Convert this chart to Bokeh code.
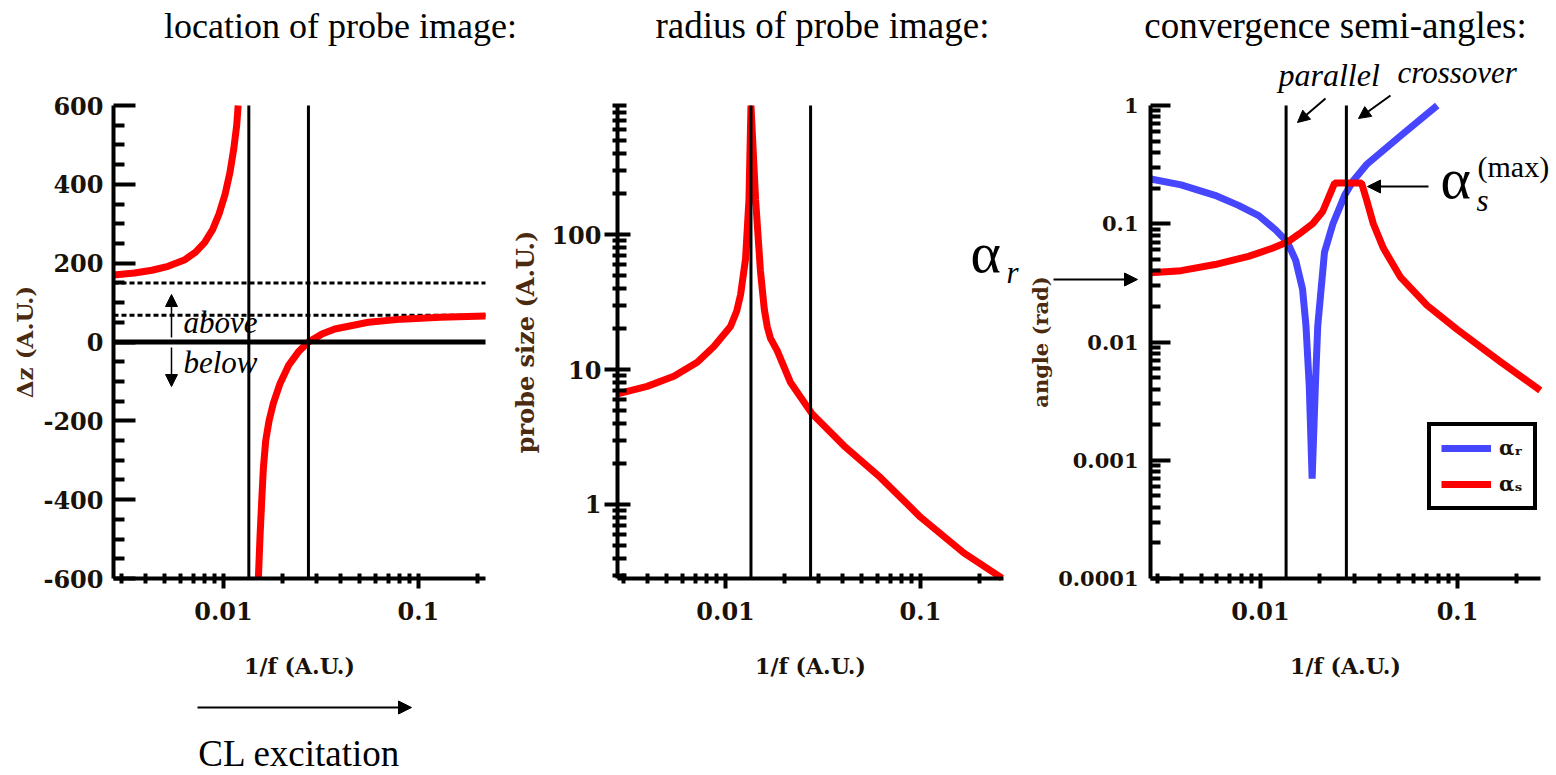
import math
from bokeh.plotting import figure
from bokeh.models import (Range1d, LogScale, LinearScale, LogAxis, LinearAxis,
                          FixedTicker, PrintfTickFormatter, Label, Arrow, NormalHead,
                          Legend, LegendItem)
from bokeh.embed import file_html
from bokeh.resources import INLINE

# ---------------- data ----------------
titles = ["location of probe image:", "radius of probe image:", "convergence semi-angles:"]
x_axis_label = "1/f (A.U.)"
y_axis_labels = ["Δz (A.U.)", "probe size (A.U.)", "angle (rad)"]

parallel_x = 0.0135
crossover_x = 0.0273

x_major_ticks = [0.01, 0.1]
x_minor_ticks = [0.003, 0.004, 0.005, 0.006, 0.007, 0.008, 0.009,
                 0.02, 0.03, 0.04, 0.05, 0.06, 0.07, 0.08, 0.09, 0.2]

# panel 1: image location
dz_major_ticks = [-600, -400, -200, 0, 200, 400, 600]
dz_minor_ticks = [-550, -500, -450, -350, -300, -250, -150, -100, -50,
                  50, 100, 150, 250, 300, 350, 450, 500, 550]
dz_upper_x = [0.00273, 0.0035, 0.0043, 0.0052, 0.0063, 0.0072, 0.0080, 0.0088,
              0.0095, 0.0102, 0.0108, 0.0113, 0.0117, 0.0119]
dz_upper_y = [170, 175, 182, 192, 208, 228, 252, 285, 325, 375, 430, 490, 550, 600]
dz_lower_x = [0.01511, 0.01542, 0.01573, 0.01603, 0.01648, 0.01714, 0.01804,
              0.01953, 0.02155, 0.02425, 0.0273, 0.0320, 0.0373, 0.0554, 0.082,
              0.130, 0.221]
dz_lower_y = [-600, -490, -400, -320, -250, -200, -155, -105, -60, -25, 0,
              20, 33, 50, 58, 63, 66]
dz_asymptotes = [150, 68]

# panel 2: probe size
size_major_ticks = [1, 10, 100]
size_minor_ticks = [0.3, 0.4, 0.5, 0.6, 0.7, 0.8, 0.9, 2, 3, 4, 5, 6, 7, 8, 9,
                    20, 30, 40, 50, 60, 70, 80, 90, 200, 300, 400, 500, 600, 700, 800, 900]
size_x = [0.00279, 0.00396, 0.00543, 0.00716, 0.00871, 0.0106, 0.0114, 0.01194,
          0.01266, 0.01318, 0.0135, 0.01426, 0.0151, 0.0158, 0.01636, 0.0170,
          0.0184, 0.0215, 0.0278, 0.0405, 0.0624, 0.100, 0.1667, 0.262]
size_y = [6.6, 7.5, 8.9, 11.3, 14.8, 20.8, 27.0, 35.8, 65.8, 181, 900, 181, 53.6,
          28.0, 20.8, 17.0, 13.8, 8.05, 4.69, 2.72, 1.58, 0.806, 0.438, 0.285]

# panel 3: convergence semi-angles
angle_major_ticks = [0.0001, 0.001, 0.01, 0.1, 1]
angle_minor_ticks = [0.0002, 0.0003, 0.0004, 0.0005, 0.0006, 0.0007, 0.0008, 0.0009,
                     0.002, 0.003, 0.004, 0.005, 0.006, 0.007, 0.008, 0.009,
                     0.02, 0.03, 0.04, 0.05, 0.06, 0.07, 0.08, 0.09,
                     0.2, 0.3, 0.4, 0.5, 0.6, 0.7, 0.8, 0.9]
alpha_r_x = [0.00278, 0.00396, 0.00588, 0.00774, 0.0098, 0.01194, 0.01371, 0.0151,
             0.01636, 0.01703, 0.0177, 0.0183, 0.0190, 0.01954, 0.02114, 0.02333,
             0.02675, 0.0295, 0.0345, 0.0512, 0.0789]
alpha_r_y = [0.239, 0.213, 0.174, 0.143, 0.117, 0.0888, 0.070, 0.049, 0.028, 0.0137,
             0.0042, 0.0007, 0.0042, 0.0137, 0.0574, 0.10, 0.174, 0.23, 0.316, 0.551, 1.0]
alpha_s_x = [0.00278, 0.00396, 0.00588, 0.0087, 0.0115, 0.01371, 0.01573, 0.0184,
             0.0207, 0.0224, 0.0238, 0.0326, 0.0345, 0.0374, 0.0421, 0.0512, 0.0701,
             0.100, 0.1667, 0.263]
alpha_s_y = [0.0386, 0.0401, 0.0452, 0.053, 0.062, 0.070, 0.082, 0.10, 0.127, 0.174,
             0.221, 0.221, 0.161, 0.10, 0.062, 0.0356, 0.0204, 0.0127, 0.00673, 0.0039]
legend_labels = ["αᵣ", "αₛ"]

# ---------------- layout / style ----------------
RED = "#ff0000"
BLUE = "#4646ff"
SERIF = "Liberation Serif"
TICKFONT = "DejaVu Serif"
TICKCOL = "#1a1208"
YLABCOL = "#4b2a0f"

W, H = 1556, 775
TOP, BOTTOM = 105, 578
frame_lefts = [113, 617, 1150]
frame_widths = [372, 386, 390]
x_ranges = [(0.00273, 0.221), (0.00279, 0.2666), (0.00277, 0.2636)]
y_ranges = [(-600, 600), (0.283, 903), (0.0001, 1)]
y_log = [False, True, True]
ytick_sizes = ["24px", "24px", "21px"]
ylabel_sizes = ["23px", "24px", "21px"]

# one canvas-wide frame in pixel units (y down); each panel gets its own scales
p = figure(width=W, height=H, x_range=Range1d(0, W), y_range=Range1d(H, 0),
           x_axis_location=None, y_axis_location=None, title=None,
           toolbar_location=None, output_backend="svg", min_border=0)
p.outline_line_color = None
p.grid.visible = False
p.background_fill_color = "white"
p.border_fill_color = "white"


def extended(lo, hi, a, b, total, log):
    # range that maps [lo, hi] onto pixels [a, b] of a span of `total` pixels
    f = (lambda v: math.log10(v)) if log else (lambda v: v)
    g = (lambda v: 10 ** v) if log else (lambda v: v)
    k = (f(hi) - f(lo)) / (b - a)
    return g(f(lo) - a * k), g(f(hi) + (total - b) * k)


for i in range(3):
    xs0, xs1 = extended(x_ranges[i][0], x_ranges[i][1], frame_lefts[i],
                        frame_lefts[i] + frame_widths[i], W, True)
    ys0, ys1 = extended(y_ranges[i][0], y_ranges[i][1], H - BOTTOM, H - TOP, H, y_log[i])
    p.extra_x_ranges[f"x{i}"] = Range1d(xs0, xs1)
    p.extra_x_scales[f"x{i}"] = LogScale()
    p.extra_y_ranges[f"y{i}"] = Range1d(ys0, ys1)
    p.extra_y_scales[f"y{i}"] = LogScale() if y_log[i] else LinearScale()


def add_axes(i, yticks, yminor, tick_in, tick_out, mtick_in, mtick_out, ystand, ylab_stand):
    xlo, xhi = x_ranges[i]
    ylo, yhi = y_ranges[i]
    xa = LogAxis(x_range_name=f"x{i}", y_range_name=f"y{i}", fixed_location=ylo,
                 bounds=(xlo, xhi))
    xa.ticker = FixedTicker(ticks=x_major_ticks,
                            minor_ticks=[t for t in x_minor_ticks if xlo <= t <= xhi])
    xa.formatter = PrintfTickFormatter(format="%g")
    xa.axis_line_width = 4
    xa.major_tick_line_width = 4
    xa.minor_tick_line_width = 4
    xa.major_tick_in = 5
    xa.major_tick_out = 10
    xa.minor_tick_in = 5
    xa.minor_tick_out = 5
    xa.major_label_text_font = TICKFONT
    xa.major_label_text_font_style = "bold"
    xa.major_label_text_font_size = "24px"
    xa.major_label_text_color = TICKCOL
    xa.major_label_standoff = 13
    xa.axis_label = x_axis_label
    xa.axis_label_text_font = TICKFONT
    xa.axis_label_text_font_style = "bold"
    xa.axis_label_text_font_size = "22px"
    xa.axis_label_text_color = TICKCOL
    xa.axis_label_standoff = 30
    p.add_layout(xa, "below")

    ycls = LogAxis if y_log[i] else LinearAxis
    ya = ycls(x_range_name=f"x{i}", y_range_name=f"y{i}", fixed_location=xlo,
              bounds=(ylo, yhi))
    ya.ticker = FixedTicker(ticks=yticks, minor_ticks=[t for t in yminor if ylo <= t <= yhi])
    ya.formatter = PrintfTickFormatter(format="%g")
    ya.axis_line_width = 4
    ya.major_tick_line_width = 4
    ya.minor_tick_line_width = 4
    ya.major_tick_in = tick_in
    ya.major_tick_out = tick_out
    ya.minor_tick_in = mtick_in
    ya.minor_tick_out = mtick_out
    ya.major_label_text_font = TICKFONT
    ya.major_label_text_font_style = "bold"
    ya.major_label_text_font_size = ytick_sizes[i]
    ya.major_label_text_color = TICKCOL
    ya.major_label_standoff = ystand
    ya.axis_label = y_axis_labels[i]
    ya.axis_label_text_font = TICKFONT
    ya.axis_label_text_font_style = "bold"
    ya.axis_label_text_font_size = ylabel_sizes[i]
    ya.axis_label_text_color = YLABCOL
    ya.axis_label_standoff = ylab_stand
    p.add_layout(ya, "left")


def vlines(i):
    ylo, yhi = y_ranges[i]
    p.segment(x0=[parallel_x, crossover_x], x1=[parallel_x, crossover_x],
              y0=[ylo, ylo], y1=[yhi, yhi], x_range_name=f"x{i}", y_range_name=f"y{i}",
              line_color="black", line_width=3)


def text(px, py, s, size, align="left", style="normal"):
    # py is the wanted baseline; the rendered baseline sits ~0.35 em lower here
    fs = float(size.replace("px", ""))
    p.add_layout(Label(x=px, y=py - 0.35 * fs, text=s, text_font=SERIF,
                       text_font_size=size, text_font_style=style, text_align=align,
                       text_baseline="alphabetic", text_color="black"))


def arrow(x0, y0, x1, y1, size=13, width=2):
    p.add_layout(Arrow(x_start=x0, y_start=y0, x_end=x1, y_end=y1,
                       line_color="black", line_width=width,
                       end=NormalHead(size=size, fill_color="black", line_color="black")))


# ---------- panel 1 ----------
add_axes(0, dz_major_ticks, dz_minor_ticks, 22, 0, 11, 0, 10, 2)
xlo, xhi = x_ranges[0]
p.segment(x0=[xlo, xlo], x1=[xhi, xhi], y0=dz_asymptotes, y1=dz_asymptotes,
          x_range_name="x0", y_range_name="y0", line_color="black", line_width=3,
          line_dash="5 3")
p.line(dz_upper_x, dz_upper_y, x_range_name="x0", y_range_name="y0",
       line_color=RED, line_width=7)
p.line(dz_lower_x, dz_lower_y, x_range_name="x0", y_range_name="y0",
       line_color=RED, line_width=7)
p.segment(x0=[xlo], x1=[xhi], y0=[0], y1=[0], x_range_name="x0", y_range_name="y0",
          line_color="black", line_width=5)
vlines(0)
text(340, 38, titles[0], "36px", align="center")
text(183, 333, "above", "31px", style="italic")
text(183, 373, "below", "31px", style="italic")
arrow(171, 337, 171, 294, size=12, width=1.5)
arrow(171, 347, 171, 386, size=12, width=1.5)
arrow(197, 707, 411, 707, size=13, width=2)
text(299, 766, "CL excitation", "37px", align="center")

# ---------- panel 2 ----------
add_axes(1, size_major_ticks, size_minor_ticks, 13, 13, 9, 5, 3, 8)
p.line(size_x, size_y, x_range_name="x1", y_range_name="y1", line_color=RED, line_width=7)
vlines(1)
text(822, 38, titles[1], "37px", align="center")
text(970, 272, "α", "58px")
text(1006, 283, "r", "31px", style="italic")

# ---------- panel 3 ----------
add_axes(2, angle_major_ticks, angle_minor_ticks, 20, 0, 10, 0, 12, 2)
rb = p.line(alpha_r_x, alpha_r_y, x_range_name="x2", y_range_name="y2",
            line_color=BLUE, line_width=7)
rs = p.line(alpha_s_x, alpha_s_y, x_range_name="x2", y_range_name="y2",
            line_color=RED, line_width=7)
vlines(2)
text(1335, 38, titles[2], "37px", align="center")
text(1278, 86, "parallel", "32px", style="italic")
text(1397, 83, "crossover", "31px", style="italic")
arrow(1325, 98, 1297, 122, size=12, width=2)
arrow(1390, 95, 1358, 118, size=12, width=2)
arrow(1053, 279, 1137, 279, size=13, width=2)
arrow(1428, 186, 1367, 186, size=13, width=2)
text(1440, 198, "α", "58px")
text(1476, 211, "s", "31px", style="italic")
text(1477, 176, "(max)", "30px")

legend = Legend(items=[LegendItem(label=legend_labels[0], renderers=[rb]),
                       LegendItem(label=legend_labels[1], renderers=[rs])],
                location=(1427, H - 510))
legend.border_line_color = "black"
legend.border_line_alpha = 1
legend.border_line_width = 4
legend.background_fill_color = "white"
legend.background_fill_alpha = 1
legend.label_text_font = TICKFONT
legend.label_text_font_style = "bold"
legend.label_text_font_size = "20px"
legend.label_text_color = TICKCOL
legend.glyph_width = 50
legend.glyph_height = 22
legend.label_standoff = 8
legend.padding = 10
legend.spacing = 12
legend.margin = 0
p.add_layout(legend)

open("out.html", "w").write(file_html(p, INLINE))
